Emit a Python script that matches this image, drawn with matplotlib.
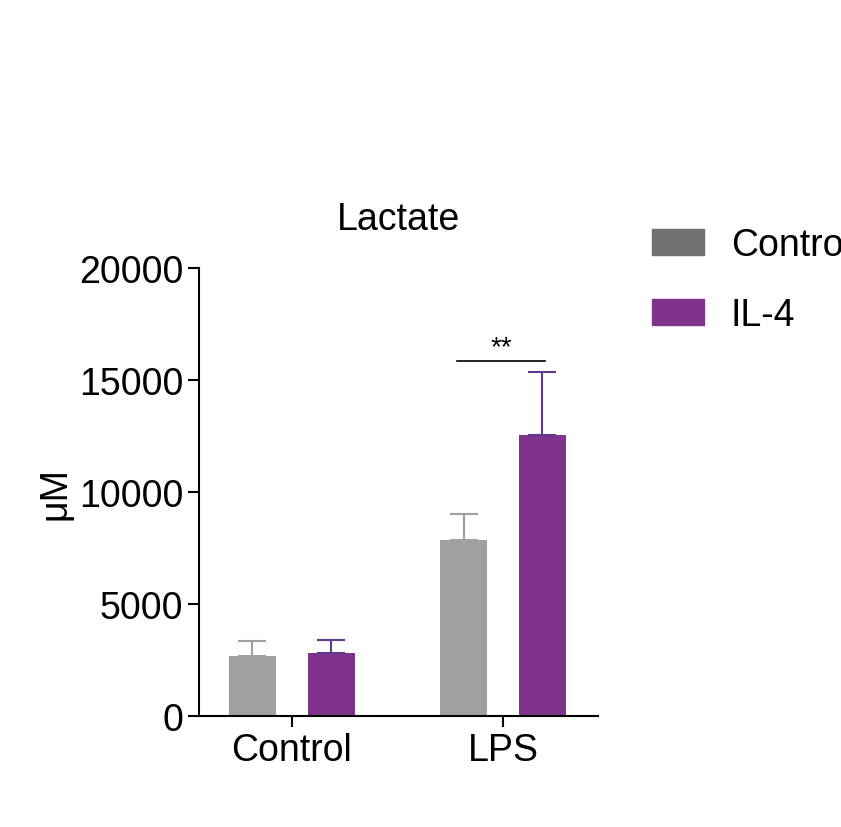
import matplotlib
matplotlib.use("Agg")
import matplotlib.pyplot as plt
from matplotlib.patches import Patch

plt.rcParams["font.family"] = "Liberation Sans"

groups = ["Control", "LPS"]
series = ["Control", "IL-4"]
means_control = [2700, 7850]
means_il4 = [2800, 12550]
err_control = [650, 1170]
err_il4 = [600, 2800]
yticks = [0, 5000, 10000, 15000, 20000]

bar_colors = ["#a0a0a0", "#7f338b"]
err_colors = ["#a0a0a0", "#5e3a8c"]
legend_colors = ["#707070", "#7f338b"]

fig = plt.figure(figsize=(8.41, 8.28), dpi=100)
ax = fig.add_axes([199/841, 111/828, 399/841, 448/828])

w = 0.223
off = 0.187
xs = list(range(len(groups)))
for k, (m, e) in enumerate([(means_control, err_control), (means_il4, err_il4)]):
    pos = [x + (2*k-1)*off for x in xs]
    ax.bar(pos, m, width=w, color=bar_colors[k])
    ax.errorbar(pos, m, yerr=[[0]*len(m), e], fmt="none", ecolor=err_colors[k],
                elinewidth=1.5, capsize=10, capthick=1.5)

ax.set_xlim(-0.44, 1.45)
ax.set_ylim(0, 20000)
ax.set_yticks(yticks)
ax.set_yticklabels([str(t) for t in yticks])
ax.set_xticks(xs)
ax.set_xticklabels(groups)
ax.tick_params(labelsize=27, width=1.5, length=8, colors="black")
for s in ["top", "right"]:
    ax.spines[s].set_visible(False)
for s in ["left", "bottom"]:
    ax.spines[s].set_linewidth(1.5)
ax.set_ylabel("μM", fontsize=27, labelpad=4)
ax.set_title("Lactate", fontsize=27, pad=28)

# significance
x1 = 1 - off - 0.03
x2 = 1 + off + 0.01
ax.plot([x1, x2], [15850, 15850], color="black", lw=1.2)
ax.text((x1+x2)/2, 15900, "**", ha="center", va="bottom", fontsize=20)

handles = [Patch(color=c) for c in legend_colors]
fig.legend(handles, series, loc="upper left", bbox_to_anchor=(0.735, 0.765),
           frameon=False, fontsize=27, handlelength=1.4, handleheight=0.7,
           labelspacing=0.9, handletextpad=0.7)

fig.savefig("out.png", dpi=100)
